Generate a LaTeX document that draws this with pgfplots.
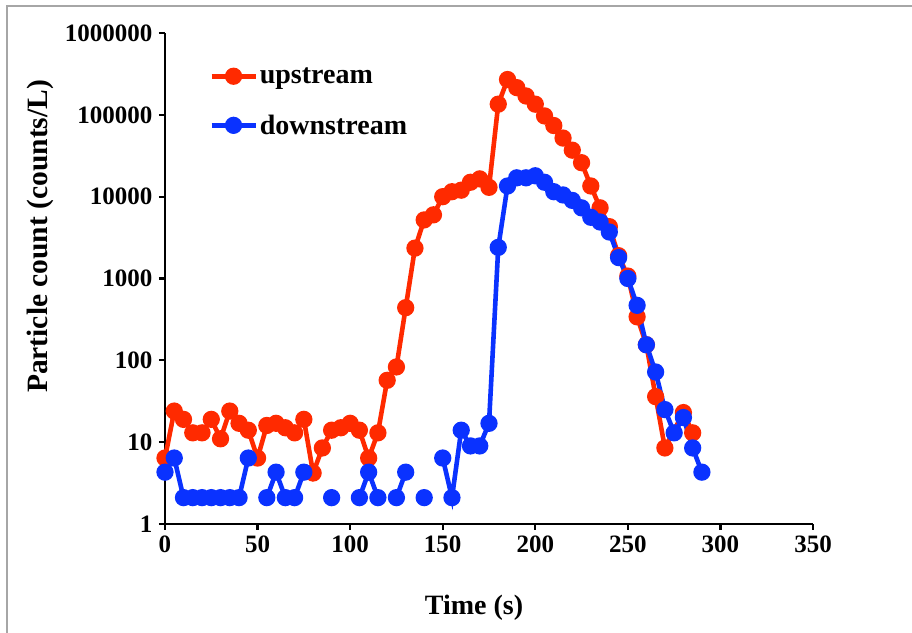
\documentclass[border=0pt]{standalone}
\usepackage{fontspec}
\setmainfont{Liberation Serif}
\usepackage{pgfplots}
\pgfplotsset{compat=1.18}
\definecolor{upred}{HTML}{FF2A00}
\definecolor{downblue}{HTML}{0A32FF}
\begin{document}
\begin{tikzpicture}[x=1pt,y=1pt]
\useasboundingbox (-165,-108) rectangle (747,524);
\draw[gray!70, line width=2pt] (-158,-110) -- (-158,518) -- (749,518);
\begin{axis}[
  at={(0,0)}, anchor=origin,
  scale only axis, width=648pt, height=491pt,
  ymode=log, log basis y=10,
  xmin=0, xmax=350, ymin=1, ymax=1000000,
  axis lines=left, axis line style={line width=2.6pt, -},
  tick align=outside, major tick length=6pt,
  tick style={line width=2.2pt, black},
  minor tick num=0,
  xtick={0,50,100,150,200,250,300,350},
  ytick={1,10,100,1000,10000,100000,1000000},
  yticklabels={1,10,100,1000,10000,100000,1000000},
  ticklabel style={font=\fontsize{25}{28}\selectfont\bfseries},
  /pgf/number format/assume math mode=true,
  xticklabel style={yshift=-2pt},
  yticklabel style={xshift=-3pt},
  every axis x label/.style={at={([xshift=-15pt,yshift=-84pt]axis description cs:0.5,0)}, anchor=center},
  every axis y label/.style={at={([xshift=-125pt,yshift=42pt]axis description cs:0,0.5)}, anchor=center, rotate=90},
  xlabel style={font=\fontsize{28}{32}\selectfont\bfseries},
  ylabel style={font=\fontsize{29.5}{33}\selectfont\bfseries},
  xlabel={Time (s)},
  ylabel={Particle count (counts/L)},
  unbounded coords=jump,
  clip=false,
  legend style={draw=none, fill=none, at={(rel axis cs:0.068,0.934)}, anchor=north west,
    font=\fontsize{28}{32}\selectfont\bfseries, row sep=26pt, inner sep=0pt},
  legend cell align=left,
  legend image code/.code={\draw[#1, mark repeat=2, mark phase=2] plot coordinates {(0pt,0pt) (22pt,0pt) (44pt,0pt)};},
]
\addplot[upred, line width=4.6pt, mark=*, mark size=6.3pt, mark options={solid}] coordinates {
(0,6.4) (5,24) (10,19) (15,13) (20,13) (25,19) (30,11) (35,24) (40,17) (45,14)
(50,6.4) (55,16) (60,17) (65,15) (70,13) (75,19) (80,4.2) (85,8.5) (90,14) (95,15)
(100,17) (105,14) (110,6.4) (115,13) (120,57) (125,83) (130,440) (135,2350) (140,5200) (145,6000)
(150,10000) (155,11500) (160,12000) (165,15000) (170,16500) (175,13000) (180,135000) (185,270000) (190,215000) (195,170000)
(200,135000) (205,97000) (210,74000) (215,52000) (220,37000) (225,26000) (230,13500) (235,7300) (240,4300) (245,1900)
(250,1070) (255,340) (260,155) (265,36) (270,8.5) (280,23) (285,13)
};
\addlegendentry{upstream}
\addplot[downblue, line width=4.6pt, mark=*, mark size=6.3pt, mark options={solid}] coordinates {
(0,4.3) (5,6.4) (10,2.1) (15,2.1) (20,2.1) (25,2.1) (30,2.1) (35,2.1) (40,2.1) (45,6.4)
(50,nan) (55,2.1) (60,4.3) (65,2.1) (70,2.1) (75,4.3) (80,nan) (85,nan) (90,2.1) (95,nan)
(100,nan) (105,2.1) (110,4.3) (115,2.1) (120,nan) (125,2.1) (130,4.3) (135,nan) (140,2.1) (145,nan)
(150,6.4) (155,2.1) (160,14) (165,9) (170,9) (175,17) (180,2400) (185,13500) (190,17000) (195,17000)
(200,18000) (205,15000) (210,11500) (215,10500) (220,9000) (225,7300) (230,5600) (235,4900) (240,3700) (245,1800)
(250,1000) (255,470) (260,155) (265,72) (270,25) (275,13) (280,20) (285,8.5) (290,4.3)
};
\addlegendentry{downstream}
\end{axis}
\end{tikzpicture}
\end{document}
